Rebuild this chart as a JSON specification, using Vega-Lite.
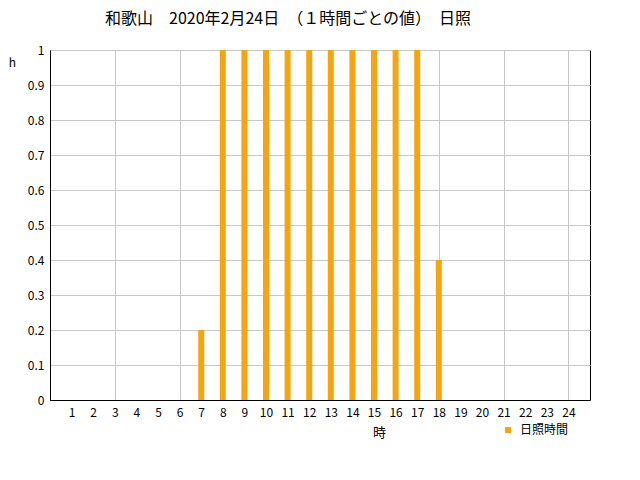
{
  "$schema": "https://vega.github.io/schema/vega-lite/v6.json",
  "autosize": {"type": "none"},
  "width": 540,
  "height": 350,
  "padding": {"left": 50, "top": 50, "right": 50, "bottom": 80},
  "background": "white",
  "title": {
    "text": "和歌山　2020年2月24日　（１時間ごとの値）　日照",
    "anchor": "middle",
    "dx": -32,
    "offset": 17,
    "font": "Noto Sans CJK JP",
    "fontSize": 16,
    "fontWeight": "normal",
    "color": "black"
  },
  "config": {
    "view": {"stroke": "black", "strokeWidth": 1},
    "font": "Noto Sans CJK JP"
  },
  "data": {
    "values": [
      {"hour": 1, "value": 0, "series": "日照時間"},
      {"hour": 2, "value": 0, "series": "日照時間"},
      {"hour": 3, "value": 0, "series": "日照時間"},
      {"hour": 4, "value": 0, "series": "日照時間"},
      {"hour": 5, "value": 0, "series": "日照時間"},
      {"hour": 6, "value": 0, "series": "日照時間"},
      {"hour": 7, "value": 0.2, "series": "日照時間"},
      {"hour": 8, "value": 1, "series": "日照時間"},
      {"hour": 9, "value": 1, "series": "日照時間"},
      {"hour": 10, "value": 1, "series": "日照時間"},
      {"hour": 11, "value": 1, "series": "日照時間"},
      {"hour": 12, "value": 1, "series": "日照時間"},
      {"hour": 13, "value": 1, "series": "日照時間"},
      {"hour": 14, "value": 1, "series": "日照時間"},
      {"hour": 15, "value": 1, "series": "日照時間"},
      {"hour": 16, "value": 1, "series": "日照時間"},
      {"hour": 17, "value": 1, "series": "日照時間"},
      {"hour": 18, "value": 0.4, "series": "日照時間"},
      {"hour": 19, "value": 0, "series": "日照時間"},
      {"hour": 20, "value": 0, "series": "日照時間"},
      {"hour": 21, "value": 0, "series": "日照時間"},
      {"hour": 22, "value": 0, "series": "日照時間"},
      {"hour": 23, "value": 0, "series": "日照時間"},
      {"hour": 24, "value": 0, "series": "日照時間"}
    ]
  },
  "mark": {"type": "bar", "size": 6},
  "encoding": {
    "x": {
      "field": "hour",
      "type": "quantitative",
      "scale": {"domain": [0, 25], "nice": false, "zero": false, "padding": 0},
      "axis": {
        "values": [1,2,3,4,5,6,7,8,9,10,11,12,13,14,15,16,17,18,19,20,21,22,23,24],
        "title": "時",
        "titleX": 329,
        "titleY": 32,
        "titleAlign": "center",
        "titleBaseline": "middle",
        "titleFontSize": 13,
        "titleFontWeight": "normal",
        "titleColor": "black",
        "labelFontSize": 12,
        "labelColor": "black",
        "labelPadding": 7,
        "labelDx": 2,
        "labelFlush": false,
        "labelOverlap": false,
        "ticks": false,
        "domainColor": "black",
        "grid": true,
        "gridColor": "#c8c8c8",
        "gridOpacity": {"condition": {"test": "datum.value % 3 === 0", "value": 1}, "value": 0}
      }
    },
    "y": {
      "field": "value",
      "type": "quantitative",
      "scale": {"domain": [0, 1], "nice": false},
      "axis": {
        "values": [0, 0.1, 0.2, 0.3, 0.4, 0.5, 0.6, 0.7, 0.8, 0.9, 1],
        "labelExpr": "format(datum.value, '~g')",
        "title": "h",
        "titleAngle": 0,
        "titleX": -38,
        "titleY": 12,
        "titleAlign": "center",
        "titleBaseline": "middle",
        "titleFontSize": 12,
        "titleFontWeight": "normal",
        "titleColor": "black",
        "labelFontSize": 12,
        "labelColor": "black",
        "labelPadding": 6,
        "labelFlush": false,
        "ticks": false,
        "domainColor": "black",
        "grid": true,
        "gridColor": "#c8c8c8"
      }
    },
    "color": {
      "field": "series",
      "type": "nominal",
      "scale": {"range": ["#F5A511"]},
      "legend": {
        "title": null,
        "orient": "none",
        "legendX": 452,
        "legendY": 374,
        "symbolType": "square",
        "symbolSize": 36,
        "labelFontSize": 12,
        "labelColor": "black",
        "labelOffset": 6,
        "padding": 0
      }
    }
  }
}
